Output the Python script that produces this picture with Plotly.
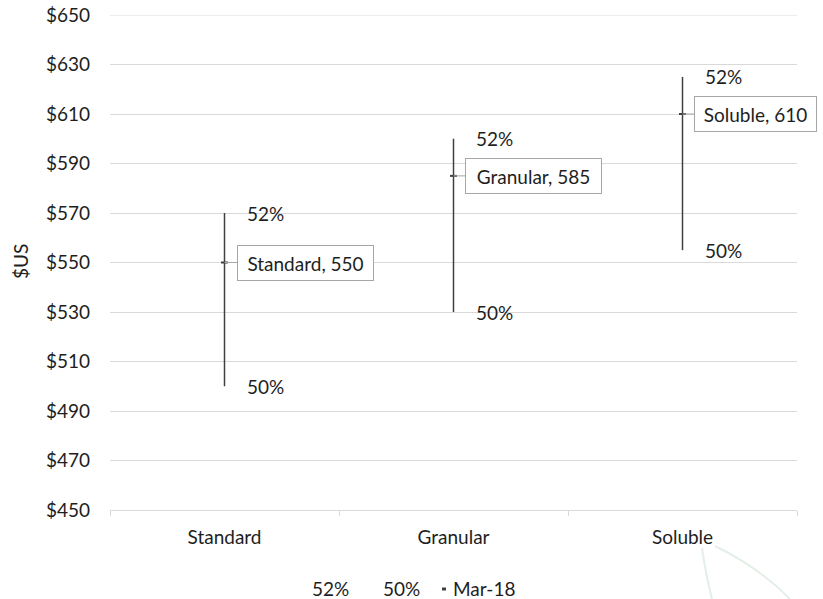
import plotly.graph_objects as go

categories = ["Standard", "Granular", "Soluble"]
high_52 = [570, 600, 625]
low_50 = [500, 530, 555]
mar_18 = [550, 585, 610]
high_name = "52%"
low_name = "50%"
point_name = "Mar-18"
y_ticks = [450, 470, 490, 510, 530, 550, 570, 590, 610, 630, 650]
y_ticktext = ["$" + str(v) for v in y_ticks]
y_title = "$US"

FONT = "Lato"
FS = 19
TXT = "#1e1e1e"
LINE = "#404040"
GRID = "#d9d9d9"

fig = go.Figure()

# high-low lines
xs, ys = [], []
for c, lo, hi in zip(categories, low_50, high_52):
    xs += [c, c, None]
    ys += [lo, hi, None]
fig.add_trace(go.Scatter(x=xs, y=ys, mode="lines", line=dict(color=LINE, width=1.5),
                         showlegend=False, hoverinfo="skip"))

# Mar-18 points
fig.add_trace(go.Scatter(x=categories, y=mar_18, mode="markers", name=point_name,
                         marker=dict(symbol="line-ew", size=5, line=dict(color=LINE, width=2)),
                         showlegend=False))

ann = []
for c, v in zip(categories, high_52):
    ann.append(dict(x=c, y=v, text=high_name, showarrow=False, xanchor="left",
                    yanchor="middle", xshift=20, font=dict(family=FONT, size=FS, color=TXT)))
for c, v in zip(categories, low_50):
    ann.append(dict(x=c, y=v, text=low_name, showarrow=False, xanchor="left",
                    yanchor="middle", xshift=20, font=dict(family=FONT, size=FS, color=TXT)))
# callout layout (pixel offsets and box widths)
callout_style = [(81, 0, 125), (80, 0, 125), (73, 0, 111)]
for (c, v), (ax, ay, w) in zip(zip(categories, mar_18), callout_style):
    ann.append(dict(x=c, y=v, text=f"{c}, {v}", showarrow=True, arrowhead=0,
                    arrowcolor="#a6a6a6", arrowwidth=1, ax=ax, ay=ay, width=w, height=24,
                    align="center", valign="middle",
                    bordercolor="#a6a6a6", borderwidth=1, borderpad=5, bgcolor="white",
                    font=dict(family=FONT, size=FS, color=TXT)))

def px2paper(px, py):
    return (px - 110) / 687, (510 - py) / 495

# y-axis title
tx, ty = px2paper(20, 262)
ann.append(dict(x=tx, y=ty, xref="paper", yref="paper", text=y_title, textangle=-90,
                showarrow=False, xanchor="center", yanchor="middle",
                font=dict(family=FONT, size=FS, color=TXT)))

# legend (as text)
for name, lx in [(high_name, 310), (low_name, 381), (point_name, 451)]:
    x, y = px2paper(lx, 588)
    ann.append(dict(x=x, y=y, xref="paper", yref="paper", text=name, showarrow=False,
                    xanchor="left", yanchor="middle", height=20, valign="middle",
                    font=dict(family=FONT, size=FS, color=TXT)))

shapes = []
x0, y0 = px2paper(442, 589)
x1, _ = px2paper(446, 589)
shapes.append(dict(type="line", xref="paper", yref="paper", x0=x0, x1=x1, y0=y0, y1=y0,
                   line=dict(color=LINE, width=3)))
# faint watermark curves
def path_px(pts):
    s = ""
    for i, (px, py) in enumerate(pts):
        x, y = px2paper(px, py)
        s += ("M" if i == 0 else ("Q" if i == 1 else " ")) + f"{x:.4f},{y:.4f}"
    return s
for pts in [[(702, 548), (706, 575), (712, 599)], [(715, 546), (760, 568), (790, 599)]]:
    shapes.append(dict(type="path", xref="paper", yref="paper", path=path_px(pts),
                       line=dict(color="#e4efe7", width=2), layer="below"))
# top gridline at range edge
shapes.append(dict(type="line", xref="paper", yref="y", x0=0, x1=1, y0=650, y1=650,
                   line=dict(color=GRID, width=1), layer="below"))

fig.update_layout(
    width=823, height=599,
    margin=dict(l=110, r=26, t=15, b=89, autoexpand=False),
    paper_bgcolor="white", plot_bgcolor="white",
    font=dict(family=FONT, size=FS, color=TXT),
    showlegend=False,
    annotations=ann,
    shapes=shapes,
    xaxis=dict(type="category", categoryarray=categories, tickson="boundaries",
               ticks="outside", ticklen=5, tickcolor=GRID, showline=True, linecolor=GRID,
               linewidth=1, showgrid=False, zeroline=False, ticklabelstandoff=10,
               automargin=False,
               tickfont=dict(family=FONT, size=FS, color=TXT), range=[-0.5, 2.5]),
    yaxis=dict(range=[450, 650], tickvals=y_ticks, ticktext=y_ticktext, showgrid=True,
               gridcolor=GRID, gridwidth=1, zeroline=False, showline=False, ticks="",
               ticklabelstandoff=19, automargin=False,
               tickfont=dict(family=FONT, size=FS, color=TXT)),
)

fig.write_html("out.html", config={"displayModeBar": False},
               post_script="document.body.style.margin='0';")
